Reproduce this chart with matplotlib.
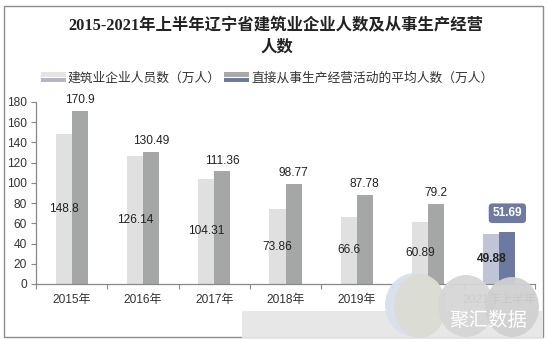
import matplotlib
matplotlib.use("Agg")
import matplotlib.pyplot as plt
import numpy as np
from matplotlib.patches import Rectangle, Ellipse
from matplotlib.legend_handler import HandlerBase

plt.rcParams['font.family'] = ['Liberation Sans', 'Noto Sans CJK SC', 'DejaVu Sans']

# ---- data ----
categories = ['2015年', '2016年', '2017年', '2018年', '2019年', '2020年', '2021年上半年']
enterprise_staff = [148.8, 126.14, 104.31, 73.86, 66.6, 60.89, 49.88]
production_staff = [170.9, 130.49, 111.36, 98.77, 87.78, 79.2, 51.69]
series_names = ['建筑业企业人员数（万人）', '直接从事生产经营活动的平均人数（万人）']
yticks = list(range(0, 181, 20))

W, H = 547, 339
fig = plt.figure(figsize=(W / 100, H / 100), dpi=100)


def fx(x):
    return x / W


def fy(y):
    return 1 - y / H


# outer frame
fig.add_artist(Rectangle((fx(4), fy(337)), fx(543) - fx(4), fy(6) - fy(337),
                         transform=fig.transFigure, fill=False, ec='#8c8c8c', lw=1.0))

ax = fig.add_axes([fx(36), fy(284), fx(535) - fx(36), fy(102) - fy(284)])

light = '#dfe0df'
dark = '#a4a7a6'
light_hl = '#c1c4d7'
dark_hl = '#6c79a0'

x = np.arange(len(categories))
bw = 0.225
lc = [light] * (len(x) - 1) + [light_hl]
dc = [dark] * (len(x) - 1) + [dark_hl]
b1 = ax.bar(x - bw / 2, enterprise_staff, bw, color=lc, zorder=2)
b2 = ax.bar(x + bw / 2, production_staff, bw, color=dc, zorder=2)

num_font = dict(family=['Liberation Sans', 'DejaVu Sans'], size=8.6, color='#222222')
for i, (xi, v) in enumerate(zip(x, enterprise_staff)):
    weight = 'bold' if i == len(x) - 1 else 'normal'
    ax.text(xi - bw / 2, v / 2, f'{v:g}', ha='center', va='center', zorder=4,
            fontweight=weight, **num_font)
for i, (xi, v) in enumerate(zip(x, production_staff)):
    if i == len(x) - 1:
        ax.annotate(f'{v:g}', (xi + bw / 2, v), xytext=(0, 9), textcoords='offset points',
                    ha='center', va='bottom', family=['Liberation Sans'], size=8.6,
                    color='white', fontweight='bold', zorder=5,
                    bbox=dict(boxstyle='round,pad=0.32,rounding_size=0.3', fc='#6e7aa0', ec='none'))
    else:
        ax.annotate(f'{v:g}', (xi + bw / 2, v), xytext=(0, 3.5), textcoords='offset points',
                    ha='center', va='bottom', zorder=4, **num_font)

ax.set_xlim(-0.5, len(x) - 0.5)
ax.set_ylim(0, 180)
ax.set_yticks(yticks)
ax.set_xticks(x)
ax.set_xticklabels(categories)
ax.set_xticks(np.arange(-0.5, len(x)), minor=True)
ax.tick_params(axis='x', which='major', length=0, pad=7, labelsize=8.6, labelcolor='#333333')
ax.tick_params(axis='x', which='minor', length=3.5, width=0.8, color='#888888')
ax.tick_params(axis='y', length=3.5, width=0.8, color='#888888', pad=3,
               labelsize=8.6, labelcolor='#333333')
for s in ['top', 'right']:
    ax.spines[s].set_visible(False)
for s in ['left', 'bottom']:
    ax.spines[s].set_color('#888888')
    ax.spines[s].set_linewidth(0.9)

# title
title_kw = dict(family=['Liberation Serif', 'Noto Sans CJK SC'], fontweight='bold',
                size=11.8, color='#222222', ha='center', va='center')
fig.text(fx(276), fy(26.5), '2015-2021年上半年辽宁省建筑业企业人数及从事生产经营', **title_kw)
fig.text(fx(277), fy(48), '人数', **title_kw)


# legend with two-tone stripe keys
class StripeHandler(HandlerBase):
    def __init__(self, top, bottom):
        super().__init__()
        self.top = top
        self.bottom = bottom

    def create_artists(self, legend, orig_handle, xdescent, ydescent, width, height,
                       fontsize, trans):
        r_top = Rectangle((-xdescent, -ydescent + height * 0.55), width, height * 0.42,
                          fc=self.top, ec='none', transform=trans)
        r_bot = Rectangle((-xdescent, -ydescent + height * 0.05), width, height * 0.42,
                          fc=self.bottom, ec='none', transform=trans)
        return [r_top, r_bot]


h1 = Rectangle((0, 0), 1, 1)
h2 = Rectangle((0, 0), 1, 1)
leg = fig.legend([h1, h2], series_names, ncol=2, frameon=False, loc='center',
                 bbox_to_anchor=(fx(267), fy(78)),
                 handler_map={h1: StripeHandler('#e4e4e4', '#b2b6c6'),
                              h2: StripeHandler('#a8a9aa', '#6d7a9c')},
                 prop=dict(family=['Noto Sans CJK SC'], size=9.2),
                 handlelength=1.95, handleheight=1.0, handletextpad=0.15,
                 columnspacing=0.3, labelcolor='#333333')

# watermark overlay
wm = [
    Rectangle((fx(242), fy(339)), fx(543) - fx(242), fy(311) - fy(339), fc='#e6e6e6', ec='none'),
    Ellipse((fx(415), fy(305)), fx(60), 64 / H, fc='#d9dfec', ec='none'),
    Ellipse((fx(420), fy(306)), fx(52), 64 / H, fc='#dcdcd2', ec='none'),
    Ellipse((fx(466), fy(306)), fx(56), 62 / H, fc='#d6d6d6', ec='none'),
    Ellipse((fx(512), fy(307)), fx(54), 60 / H, fc='#d0d0d0', ec='none'),
]
for p in wm:
    p.set_transform(fig.transFigure)
    p.set_alpha(0.95)
    p.set_zorder(10)
    fig.add_artist(p)
wt = fig.text(fx(449), fy(321), '聚汇数据', family=['Noto Sans CJK SC'], size=14,
              color='white', ha='left', va='center', zorder=11)
wt.set_clip_on(True)
wt.set_clip_path(Rectangle((fx(440), fy(339)), fx(527) - fx(440), fy(300) - fy(339),
                           transform=fig.transFigure))

fig.savefig('out.png', dpi=100)
